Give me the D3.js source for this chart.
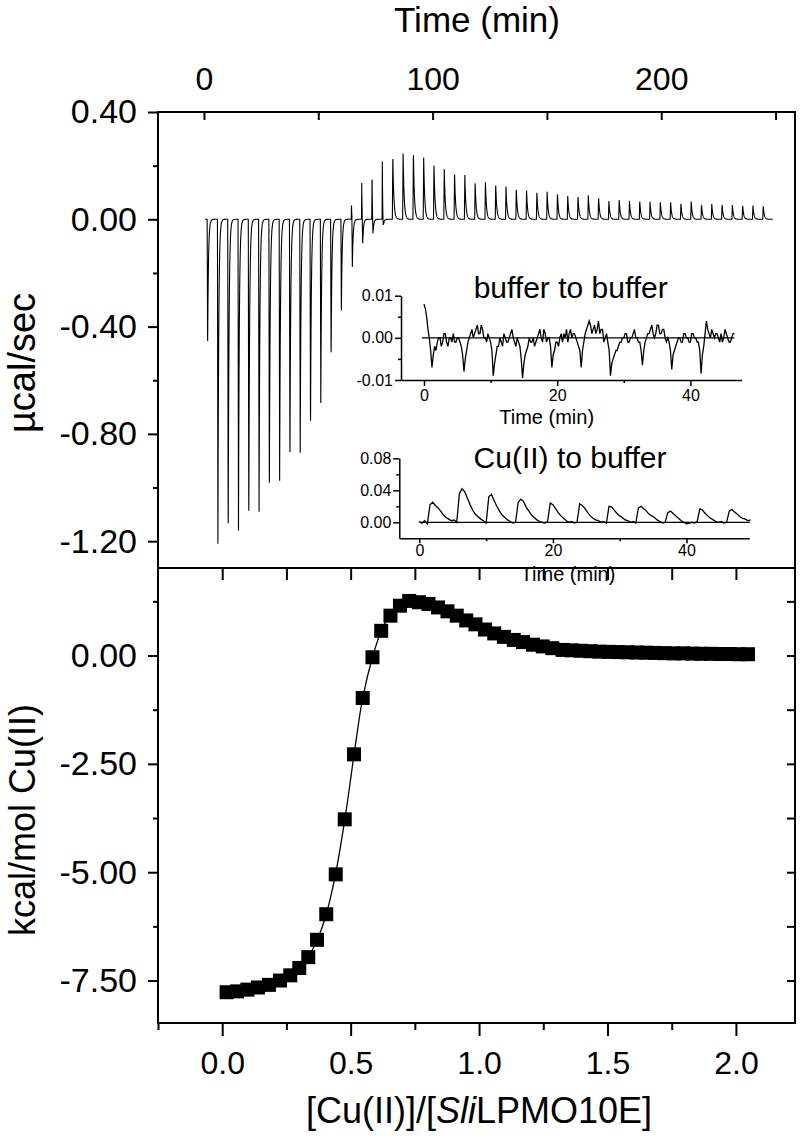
<!DOCTYPE html>
<html><head><meta charset="utf-8">
<script src="https://cdn.jsdelivr.net/npm/d3@7"></script>
<style>body{margin:0;background:#fff}svg{display:block}</style>
</head><body><svg id="c" width="800" height="1143"></svg>
<script>
// ---------------- DATA ----------------
// Top panel: raw ITC thermogram, injection times (min) and peak amplitudes (µcal/sec)
const injTime = [1.4,5.9,10.4,14.9,19.4,23.9,28.4,32.9,37.4,41.9,46.4,50.9,55.4,59.9,64.4,68.9,73.4,77.9,82.4,86.9,91.4,95.9,100.4,104.9,109.4,113.9,118.4,122.9,127.4,131.9,136.4,140.9,145.4,149.9,154.4,158.9,163.4,167.9,172.4,176.9,181.4,185.9,190.4,194.9,199.4,203.9,208.4,212.9,217.4,221.9,226.4,230.9,235.4,239.9,244.4];
const injNeg = [-0.48,-1.21,-1.20,-1.16,-1.15,-1.09,-1.04,-0.975,-0.92,-0.87,-0.795,-0.685,-0.525,-0.34,-0.18,-0.10,-0.06,-0.03,0,0,0,0,0,0,0,0,0,0,0,0,0,0,0,0,0,0,0,0,0,0,0,0,0,0,0,0,0,0,0,0,0,0,0,0,0];
const injPos = [0,0,0,0,0,0,0,0,0,0,0,0,0,0,0.06,0.135,0.175,0.215,0.235,0.245,0.25,0.23,0.21,0.187,0.175,0.165,0.14,0.138,0.132,0.122,0.115,0.107,0.103,0.103,0.097,0.087,0.087,0.09,0.082,0.068,0.075,0.069,0.069,0.066,0.066,0.063,0.06,0.066,0.056,0.057,0.056,0.053,0.053,0.051,0.051];
const traceStart = 0.5, traceEnd = 248.8;

// Bottom panel: integrated heats
const ratio = [0.017,0.058,0.098,0.139,0.182,0.225,0.265,0.300,0.335,0.369,0.405,0.442,0.477,0.513,0.547,0.585,0.619,0.655,0.692,0.728,0.766,0.803,0.840,0.877,0.913,0.950,0.986,1.023,1.059,1.097,1.135,1.171,1.210,1.248,1.285,1.325,1.361,1.397,1.433,1.469,1.505,1.542,1.578,1.614,1.650,1.686,1.722,1.758,1.794,1.830,1.866,1.903,1.939,1.975,2.011,2.047];
const heat = [-7.77,-7.75,-7.71,-7.66,-7.60,-7.50,-7.38,-7.21,-6.96,-6.56,-5.97,-5.05,-3.78,-2.28,-0.98,-0.04,0.57,0.92,1.15,1.26,1.23,1.19,1.11,1.02,0.92,0.81,0.72,0.60,0.51,0.43,0.36,0.31,0.25,0.21,0.17,0.13,0.12,0.11,0.10,0.09,0.085,0.08,0.075,0.07,0.065,0.06,0.055,0.05,0.05,0.045,0.04,0.04,0.035,0.035,0.03,0.03];
const fitRatio = [0.017,0.06,0.10,0.14,0.19,0.23,0.27,0.30,0.335,0.37,0.405,0.44,0.477,0.513,0.547,0.585,0.62,0.655,0.69,0.73,0.77,0.80,0.84,0.88,0.95,1.02,1.10,1.17,1.25,1.33,1.45,1.60,1.80,2.047];
const fitHeat = [-7.79,-7.75,-7.71,-7.66,-7.58,-7.48,-7.35,-7.20,-6.95,-6.56,-5.97,-5.08,-3.80,-2.30,-0.98,-0.04,0.58,0.95,1.18,1.28,1.25,1.19,1.11,1.02,0.81,0.61,0.43,0.31,0.21,0.13,0.09,0.07,0.045,0.03];

// Inset 1: buffer to buffer (µcal/sec x 1e-3), sampled every 0.2 min from t=0
const in1Start = 0, in1Step = 0.2;
const in1Vals = [8,7,5,2,0,-3,-7,-4,-2,-3, -1,0,0,-2,-1,1,1,-1,-2,0, 0,-1,1,-1,-1,0,0,-1,-2,-4,
  -8,-5,-3,-1,0,1,2,0,1,2, 3,1,1,3,2,0,0,-1,1,0, -1,-3,-9,-6,-4,-2,-2,0,-1,-2,
  1,0,-1,-1,0,1,2,0,-1,-2, 0,-1,-2,-5,-9.5,-6,-4,-3,-2,0, -1,-1,0,-2,-1,0,1,2,0,-1,
  2,1,-1,0,0,-2,-7,-4,-3,-1, -1,-2,0,1,-1,1,0,2,-1,1, 2,0,1,1,0,-1,-2,-3,-7,-3,
  -1,1,2,3,4,3,1,2,3,1, 2,4,1,2,2,-1,0,1,-1,-3, -9,-6,-5,-4,-3,-3,-2,-1,-1,0,
  0,1,1,-1,-1,0,0,1,2,0, 0,-1,-1,-3,-6.5,-3,-1,0,1,1, 2,3,1,0,1,3,3,1,1,2,
  2,0,-1,0,-1,-3,-7.5,-4,-3,-2, -1,0,0,-1,-1,1,1,0,0,-1, -1,1,1,0,0,-1,-1,-3,-8.5,-4,
  -2,1,4,2,1,0,2,1,0,1, 1,0,-1,1,-1,0,2,1,0,-1, -1,0,1,1];
// Inset 2: Cu(II) to buffer (µcal/sec x 1e-3), sampled every 0.4 min from t=0
const in2Start = 0, in2Step = 0.4;
const in2Vals = [1,-1,2,-2,22,25,21,18,14,9,6,4,2,3,0,36,42,38,30,22,15,10,7,4,2,-1,32,35,27,20,14,9,6,3,1,-1,0,25,29,26,19,14,9,6,3,1,0,-1,1,24,22,17,12,8,5,2,0,1,-1,0,23,21,17,12,8,5,3,2,0,1,-1,20,19,15,11,8,6,3,2,0,1,-1,18,20,17,14,10,8,6,3,1,-1,0,12,14,11,8,5,2,0,-2,-1,0,-1,1,17,15,11,8,5,3,1,0,1,-1,0,14,16,13,10,7,5,4,2,3];

// Tick values / labels
const timeTicks = [0,50,100,150,200,250];
const timeLabels = [0,100,200];
const topYMajor = [0.40,0.00,-0.40,-0.80,-1.20];
const topYMinor = [0.20,-0.20,-0.60,-1.00];
const ratioMajor = [0.0,0.5,1.0,1.5,2.0];
const ratioMinor = [-0.25,0.25,0.75,1.25,1.75];
const heatMajor = [0.00,-2.50,-5.00,-7.50];
const heatMinor = [1.25,-1.25,-3.75,-6.25];
const in1YMajor = [0.01,0.00,-0.01], in1YMinor = [0.005,-0.005];
const in2YMajor = [0.08,0.04,0.00], in2YMinor = [0.06,0.02];
const inXMajor = [0,20,40], inXMinor = [10,30];

// ---------------- DRAW ----------------
const FONT = '"Liberation Sans", Arial, Helvetica, sans-serif';
const svg = d3.select('#c');
svg.append('rect').attr('width',800).attr('height',1143).attr('fill','#fff');

const L=158, R=795, T1=112, B1=568, B2=1023;
const xTime = d3.scaleLinear().domain([-20.1,258.5]).range([L,R]);
const yTop = d3.scaleLinear().domain([-1.30,0.40]).range([B1,T1]);
const xRatio = d3.scaleLinear().domain([-0.25,2.23]).range([L,R]);
const yHeat = d3.scaleLinear().domain([-8.48,2.02]).range([B2,B1]);

function put(gen, tx, ty, fs, sw, keepDomain) {
  const g = svg.append('g').attr('transform',`translate(${tx},${ty})`).call(gen);
  g.attr('font-family', FONT).attr('font-size', fs);
  if (!keepDomain) g.selectAll('.domain').remove();
  else g.selectAll('.domain').attr('stroke','#000').attr('stroke-width', sw);
  g.selectAll('.tick line').attr('stroke','#000').attr('stroke-width', sw);
  g.selectAll('.tick text').attr('fill','#000');
  return g;
}
const f2 = d => d.toFixed(2), f1 = d => d.toFixed(1), f0 = d => String(d);

// --- Top panel thermogram trace
function pulse(dt, A, r, tau) {
  if (A === 0 || dt < 0) return 0;
  return dt < r ? A*dt/r : A*Math.exp(-(dt-r)/tau);
}
const trace = [];
for (let t = traceStart; t <= traceEnd; t += 0.04) {
  let v = 0;
  for (let i = 0; i < injTime.length; i++) {
    const dt = t - injTime[i];
    if (dt < 0 || dt > 8) continue;
    const bi = injPos[i] > 0 && injNeg[i] < 0;
    v += pulse(dt, injPos[i], bi ? 0.12 : 0.2, bi ? 0.12 : 0.45);
    v += pulse(dt - (bi ? 0.3 : 0), injNeg[i], 0.2, 0.35);
  }
  trace.push([t, v]);
}
svg.append('path').datum(trace)
  .attr('d', d3.line().x(d=>xTime(d[0])).y(d=>yTop(d[1])))
  .attr('fill','none').attr('stroke','#000').attr('stroke-width',1.1);

// top axes
put(d3.axisBottom(xTime).tickValues(timeTicks).tickSize(8).tickFormat(''), 0, T1, 32, 2);
put(d3.axisTop(xTime).tickValues(timeLabels).tickSize(0).tickPadding(22).tickFormat(f0), 0, T1, 32, 2);
put(d3.axisLeft(yTop).tickValues(topYMajor).tickSize(10).tickPadding(11).tickFormat(f2), L, 0, 34, 2);
put(d3.axisLeft(yTop).tickValues(topYMinor).tickSize(5).tickFormat(''), L, 0, 34, 2);

// --- Inset 1
const xI1 = d3.scaleLinear().domain([-3.45,47.7]).range([401,741.7]);
const yI1 = d3.scaleLinear().domain([-0.01,0.01]).range([380,295.7]);
svg.append('line').attr('x1',xI1(-0.3)).attr('x2',xI1(46.6)).attr('y1',yI1(0)).attr('y2',yI1(0)).attr('stroke','#000').attr('stroke-width',1.2);
svg.append('path').datum(in1Vals)
  .attr('d', d3.line().x((d,i)=>xI1(in1Start+i*in1Step)).y(d=>yI1(d/1000)))
  .attr('fill','none').attr('stroke','#000').attr('stroke-width',1.3);
put(d3.axisLeft(yI1).tickValues(in1YMajor).tickSize(6).tickSizeOuter(0).tickPadding(2).tickFormat(f2), 401, 0, 16, 1.5, true);
put(d3.axisLeft(yI1).tickValues(in1YMinor).tickSize(3).tickSizeOuter(0).tickFormat(''), 401, 0, 16, 1.5);
put(d3.axisBottom(xI1).tickValues(inXMajor).tickSize(6).tickSizeOuter(0).tickPadding(4).tickFormat(f0), 0, 380, 16, 1.5, true);
put(d3.axisBottom(xI1).tickValues(inXMinor).tickSize(3).tickSizeOuter(0).tickFormat(''), 0, 380, 16, 1.5);
svg.append('text').attr('x',546.7).attr('y',424).attr('text-anchor','middle')
  .attr('font-family',FONT).attr('font-size',20).text('Time (min)');
svg.append('text').attr('x',570.7).attr('y',298.3).attr('text-anchor','middle')
  .attr('font-family',FONT).attr('font-size',30).text('buffer to buffer');

// --- Inset 2
const xI2 = d3.scaleLinear().domain([-3,49.4]).range([399.3,749.3]);
const yI2 = d3.scaleLinear().domain([-0.02,0.08]).range([538.3,458.3]);
svg.append('line').attr('x1',xI2(0)).attr('x2',xI2(49.5)).attr('y1',yI2(0)).attr('y2',yI2(0)).attr('stroke','#000').attr('stroke-width',1.2);
svg.append('path').datum(in2Vals)
  .attr('d', d3.line().x((d,i)=>xI2(in2Start+i*in2Step)).y(d=>yI2(d/1000)))
  .attr('fill','none').attr('stroke','#000').attr('stroke-width',1.3);
put(d3.axisLeft(yI2).tickValues(in2YMajor).tickSize(6).tickSizeOuter(0).tickPadding(2).tickFormat(f2), 399.3, 0, 16, 1.5, true);
put(d3.axisLeft(yI2).tickValues(in2YMinor).tickSize(3).tickSizeOuter(0).tickFormat(''), 399.3, 0, 16, 1.5);
put(d3.axisBottom(xI2).tickValues(inXMajor).tickSize(5).tickSizeOuter(0).tickPadding(1).tickFormat(f0), 0, 538.3, 16, 1.5, true);
put(d3.axisBottom(xI2).tickValues(inXMinor).tickSize(3).tickSizeOuter(0).tickFormat(''), 0, 538.3, 16, 1.5);
svg.append('text').attr('x',570).attr('y',468).attr('text-anchor','middle')
  .attr('font-family',FONT).attr('font-size',30).text('Cu(II) to buffer');

// --- Bottom panel
svg.append('path').datum(fitRatio.map((r,i)=>[r,fitHeat[i]]))
  .attr('d', d3.line().curve(d3.curveCatmullRom).x(d=>xRatio(d[0])).y(d=>yHeat(d[1])))
  .attr('fill','none').attr('stroke','#000').attr('stroke-width',1.3);
const SQ = 14;
svg.append('g').selectAll('rect').data(ratio.map((r,i)=>[r,heat[i]])).join('rect')
  .attr('x', d=>xRatio(d[0])-SQ/2).attr('y', d=>yHeat(d[1])-SQ/2)
  .attr('width',SQ).attr('height',SQ).attr('fill','#000');

put(d3.axisLeft(yHeat).tickValues(heatMajor).tickSize(10).tickPadding(11).tickFormat(f2), L, 0, 34, 2);
put(d3.axisLeft(yHeat).tickValues(heatMinor).tickSize(5).tickFormat(''), L, 0, 34, 2);
put(d3.axisRight(yHeat).tickValues(heatMajor.concat(heatMinor)).tickSize(-8).tickFormat(''), R, 0, 32, 2);
put(d3.axisBottom(xRatio).tickValues(ratioMajor).tickSize(13).tickPadding(15).tickFormat(f1), 0, B2, 32, 2);
put(d3.axisBottom(xRatio).tickValues(ratioMinor).tickSize(7).tickFormat(''), 0, B2, 32, 2);
put(d3.axisBottom(xRatio).tickValues(ratioMajor.concat(ratioMinor.slice(1))).tickSize(12).tickFormat(''), 0, B1, 32, 2);

// frames
svg.append('rect').attr('x',L).attr('y',T1).attr('width',R-L).attr('height',B1-T1)
  .attr('fill','none').attr('stroke','#000').attr('stroke-width',2);
svg.append('rect').attr('x',L).attr('y',B1).attr('width',R-L).attr('height',B2-B1)
  .attr('fill','none').attr('stroke','#000').attr('stroke-width',2);

// inset 2 x-title (overlapping panel border as in original)
svg.append('text').attr('x',568).attr('y',581).attr('text-anchor','middle')
  .attr('font-family',FONT).attr('font-size',20).text('Time (min)');

// titles
svg.append('text').attr('x',477).attr('y',32).attr('text-anchor','middle')
  .attr('font-family',FONT).attr('font-size',35).text('Time (min)');
svg.append('text').attr('transform','translate(35,363) rotate(-90)').attr('text-anchor','middle')
  .attr('font-family',FONT).attr('font-size',38).text('µcal/sec');
svg.append('text').attr('transform','translate(35,820) rotate(-90)').attr('text-anchor','middle')
  .attr('font-family',FONT).attr('font-size',36).text('kcal/mol Cu(II)');
const xl = svg.append('text').attr('x',479).attr('y',1123).attr('text-anchor','middle')
  .attr('font-family',FONT).attr('font-size',36);
xl.append('tspan').text('[Cu(II)]/[');
xl.append('tspan').attr('font-style','italic').text('Sli');
xl.append('tspan').text('LPMO10E]');
</script></body></html>
